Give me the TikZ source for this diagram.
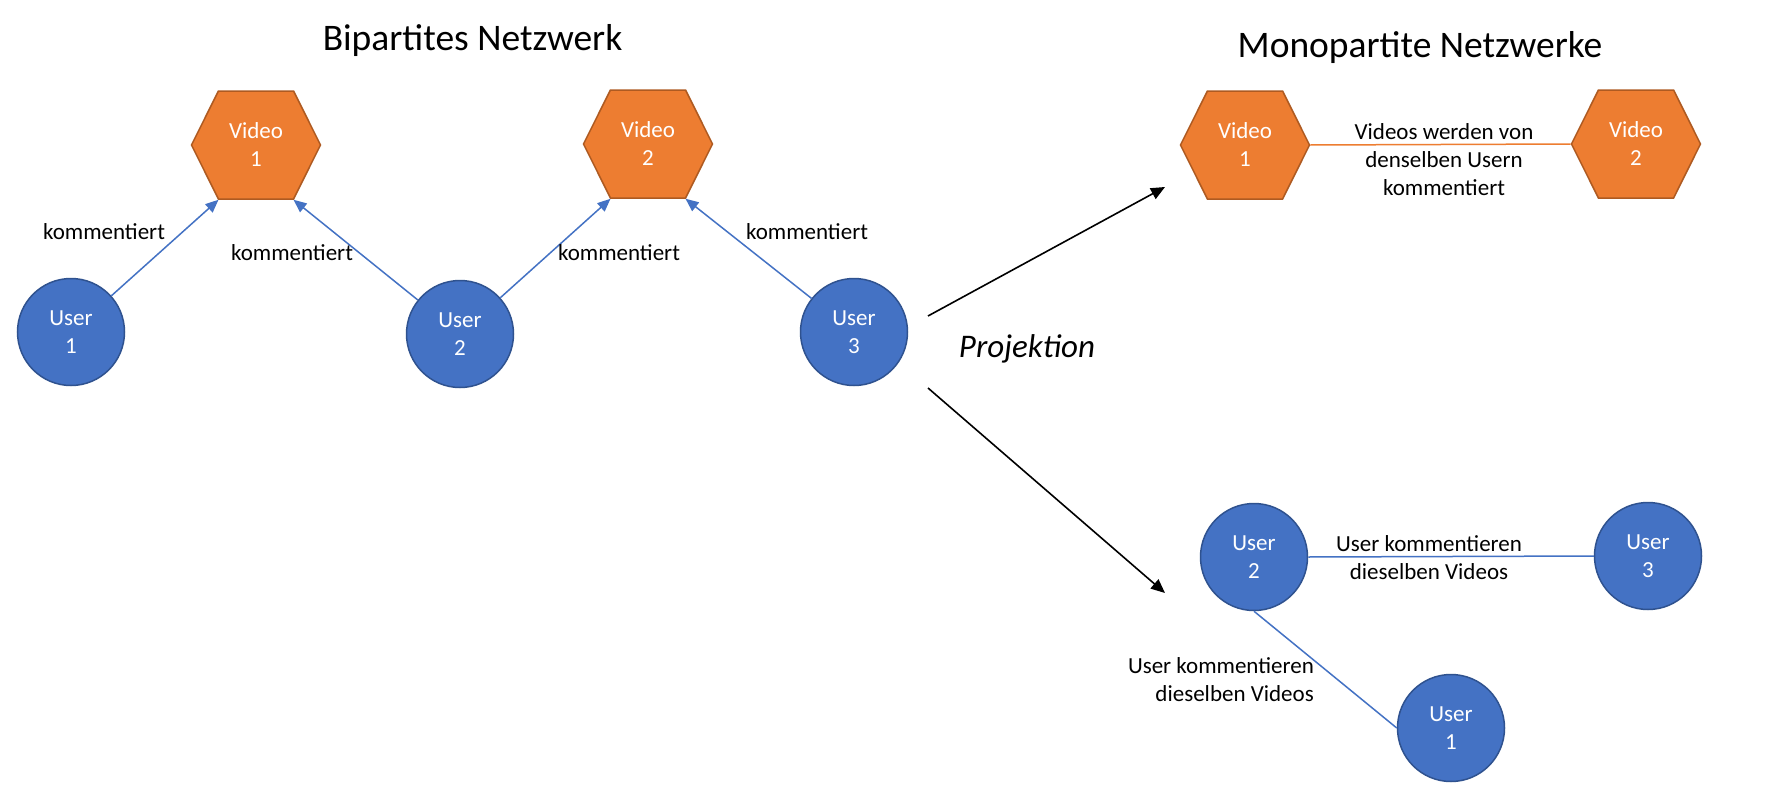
\documentclass[tikz,border=0pt]{standalone}
\usepackage{fontspec}
\setmainfont{Carlito}
\usetikzlibrary{shapes.symbols,arrows.meta,calc}
\definecolor{ublue}{HTML}{4472C4}
\definecolor{ubord}{HTML}{2F528F}
\definecolor{vor}{HTML}{ED7D31}
\definecolor{vbord}{HTML}{AE5A21}
\begin{document}
\begin{tikzpicture}[x=1pt,y=-1pt,
  txt/.style={font=\fontsize{23}{28}\selectfont},
  user/.style={circle, fill=ublue, draw=ubord, line width=1.5pt, minimum size=107pt, inner sep=0pt, text=white, align=center, txt},
  video/.style={signal, signal to=east and west, signal pointer angle=127, fill=vor, draw=vbord, line width=1.5pt, minimum width=129pt, minimum height=108pt, inner sep=0pt, text=white, align=center, txt},
  lbl/.style={txt, align=center, inner sep=0pt},
  title/.style={font=\fontsize{37.5}{44}\selectfont, inner sep=0pt, anchor=base},
  barrow/.style={draw=ublue, line width=1.5pt, -{Triangle[length=13pt,width=11pt]}},
  karrow/.style={draw=black, line width=1.6pt, -{Triangle[length=14pt,width=12pt]}},
  bline/.style={draw=ublue, line width=1.5pt},
  oline/.style={draw=vor, line width=1.5pt}]
\useasboundingbox[fill=white] (0,0) rectangle (1765,811);
% titles
\node[title] (t1) at (472.5,50) {Bipartites Netzwerk};
\node[title] (t2) at (1420,57) {Monopartite Netzwerke};
% bipartite
\node[video] (v1) at (256,145) {Video\\1};
\node[video] (v2) at (648,144) {Video\\2};
\node[user] (u1) at (71,332) {User\\1};
\node[user] (u2) at (460,334) {User\\2};
\node[user] (u3) at (854,332) {User\\3};
\draw[barrow] (u1) -- ($(v1.south)+(-37.5,0)$);
\draw[barrow] (u2) -- ($(v1.south)+(37.5,0)$);
\draw[barrow] (u2) -- ($(v2.south)+(-37.5,0)$);
\draw[barrow] (u3) -- ($(v2.south)+(37.5,0)$);
\node[lbl] (k1) at (104,232) {kommentiert};
\node[lbl] (k2) at (292,253) {kommentiert};
\node[lbl] (k3) at (619,253) {kommentiert};
\node[lbl] (k4) at (807,232) {kommentiert};
% projection
\coordinate (p1s) at (928,316);
\coordinate (p1e) at (1165,187);
\coordinate (p2s) at (928,388);
\coordinate (p2e) at (1165,593);
\draw[karrow] (p1s) -- (p1e);
\draw[karrow] (p2s) -- (p2e);
\node[font=\fontsize{33}{38}\selectfont\itshape, inner sep=0pt, anchor=base] (proj) at (1027,357) {Projektion};
% monopartite videos
\node[video] (mv1) at (1245,145) {Video\\1};
\node[video] (mv2) at (1636,144) {Video\\2};
\draw[oline] (mv1.east) -- (mv2.west);
\node[lbl] (ml1) at (1444,160) {Videos werden von\\denselben Usern\\kommentiert};
% monopartite users
\node[user] (mu2) at (1254,557) {User\\2};
\node[user] (mu3) at (1648,556) {User\\3};
\node[user] (mu1) at (1451,728) {User\\1};
\draw[bline] (mu2.east) -- (mu3.west);
\draw[bline] (mu2.south) -- (mu1.west);
\node[lbl] (ml2) at (1429,558) {User kommentieren\\dieselben Videos};
\node[lbl, anchor=east, align=right] (ml3) at (1314,680) {User kommentieren\\dieselben Videos};
\end{tikzpicture}
\end{document}
